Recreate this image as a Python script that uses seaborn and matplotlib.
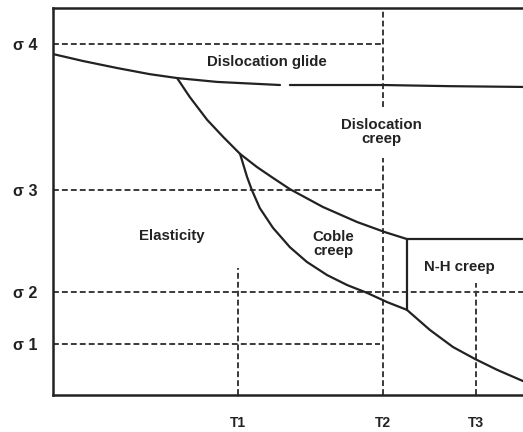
import matplotlib
matplotlib.use("Agg")
import matplotlib.pyplot as plt
import pandas as pd
import seaborn as sns

# ---- tick positions / labels ----
stress_levels = [13.2, 26.6, 53.0, 90.7]
stress_labels = ["σ 1", "σ 2", "σ 3", "σ 4"]
temp_levels = [39.4, 70.2, 90.0]
temp_labels = ["T1", "T2", "T3"]

# ---- solid boundary curves (temperature, stress) ----
glide_left_x = [0, 6.4, 13.6, 20.6, 26.4, 34.9, 48.3]
glide_left_y = [88.1, 86.3, 84.5, 82.9, 81.9, 80.9, 80.1]
glide_right_x = [50.4, 70.2, 84.5, 100]
glide_right_y = [80.1, 80.1, 79.8, 79.6]

creep_x = [26.4, 29.1, 32.8, 36.2, 39.8, 43.4, 46.8, 50.4, 57.4, 64.7, 70.6, 75.3]
creep_y = [81.9, 77.0, 71.1, 66.7, 62.3, 58.9, 56.1, 53.2, 48.6, 44.7, 42.1, 40.3]

nh_top_x = [75.3, 100]
nh_top_y = [40.3, 40.3]

nh_left_x = [75.3, 75.3]
nh_left_y = [40.3, 22.0]

coble_x = [39.8, 41.3, 42.3, 44.0, 46.8, 50.4, 54.0, 58.3, 62.6, 66.8, 71.1, 75.3]
coble_y = [62.3, 56.3, 53.0, 48.3, 43.2, 38.2, 34.4, 31.0, 28.4, 26.4, 24.0, 22.0]

lower_x = [75.3, 80.2, 85.1, 89.8, 94.5, 100]
lower_y = [22.0, 16.8, 12.4, 9.3, 6.5, 3.6]

# ---- dashed guide lines ----
h_guide_y = [13.2, 26.6, 53.0, 90.7]
h_guide_xmax = [69.6, 100, 70.2, 70.2]
v_guide_x = [39.4, 70.2, 70.2, 90.0]
v_guide_ymin = [0, 0, 74.4, 0]
v_guide_ymax = [32.8, 61.2, 100, 28.9]

# ---- region labels ----
region_text = ["Dislocation glide", "Dislocation\ncreep", "Elasticity", "Coble\ncreep", "N-H creep"]
region_x = [45.4, 69.8, 25.3, 59.6, 86.4]
region_y = [86.0, 68.0, 41.1, 38.9, 33.1]

sns.set_theme(style="white")
plt.rcParams["font.family"] = ["Liberation Sans", "DejaVu Sans"]

fig = plt.figure(figsize=(5.23, 4.32), dpi=100)
ax = fig.add_axes([53 / 523, 37 / 432, 470 / 523, 387 / 432])

ink = "#222222"
dash_col = "#3a3a3a"
dash_style = (0, (3.0, 1.6))

# dashed guides
for y, xm in zip(h_guide_y, h_guide_xmax):
    ax.plot([0, xm], [y, y], color=dash_col, lw=1.4, linestyle=dash_style, zorder=1)
for x, y0, y1 in zip(v_guide_x, v_guide_ymin, v_guide_ymax):
    ax.plot([x, x], [y0, y1], color=dash_col, lw=1.4, linestyle=dash_style, zorder=1)

curves = [
    (glide_left_x, glide_left_y),
    (glide_right_x, glide_right_y),
    (creep_x, creep_y),
    (nh_top_x, nh_top_y),
    (nh_left_x, nh_left_y),
    (coble_x, coble_y),
    (lower_x, lower_y),
]
for cx, cy in curves:
    df = pd.DataFrame({"T": cx, "s": cy})
    sns.lineplot(data=df, x="T", y="s", ax=ax, sort=False, estimator=None,
                 color=ink, lw=1.6, zorder=3)

for t, x, y in zip(region_text, region_x, region_y):
    ax.text(x, y, t, ha="center", va="center", fontsize=10.8, fontweight="bold",
            color=ink, linespacing=1.0, zorder=4)

ax.set_xlim(0, 100)
ax.set_ylim(0, 100)
ax.set_xticks(temp_levels)
ax.set_xticklabels(temp_labels)
ax.set_yticks(stress_levels)
ax.set_yticklabels(stress_labels)
ax.tick_params(axis="both", length=0, colors=ink)
ax.tick_params(axis="x", pad=15, labelsize=10)
ax.tick_params(axis="y", pad=11, labelsize=11.5)
for lab in ax.get_xticklabels() + ax.get_yticklabels():
    lab.set_fontweight("bold")
ax.set_xlabel("")
ax.set_ylabel("")

for side in ["left", "top", "bottom"]:
    ax.spines[side].set_color(ink)
    ax.spines[side].set_linewidth(1.8)
ax.spines["right"].set_visible(False)

fig.savefig("out.png", dpi=100)
